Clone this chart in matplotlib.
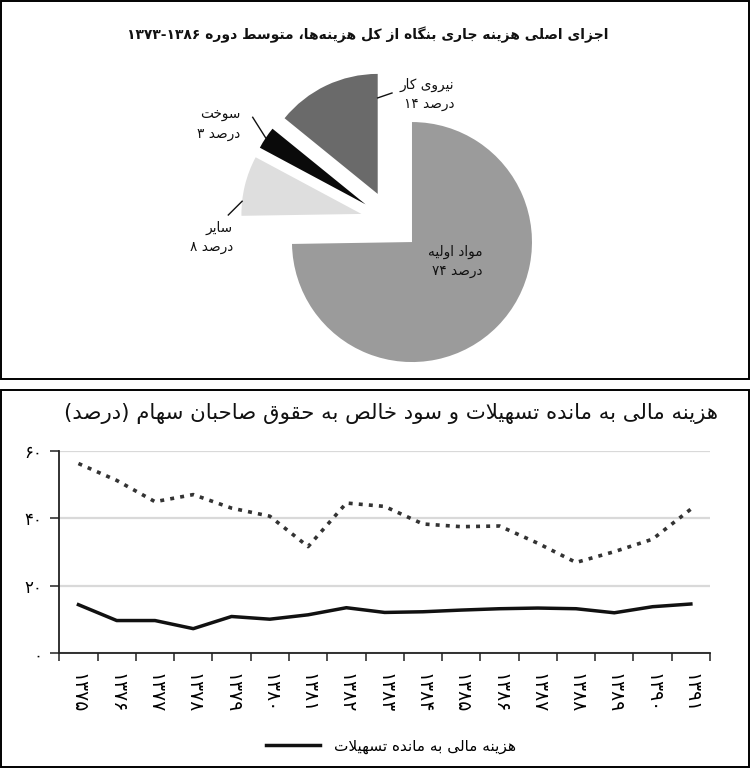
import re
import numpy as np
import matplotlib
matplotlib.use('Agg')
import matplotlib.pyplot as plt
from matplotlib.patches import Rectangle

plt.rcParams['font.family'] = ['DejaVu Sans']

# pie: main current cost components, average 1373-1386
cost_names = ['مواد اولیه', 'سایر', 'سوخت', 'نیروی کار']
cost_shares = [74, 8, 3, 14]
cost_colors = ['#9b9b9b', '#dedede', '#0a0a0a', '#6a6a6a']

# line chart
years = [1375, 1376, 1377, 1378, 1379, 1380, 1381, 1382, 1383,
         1384, 1385, 1386, 1387, 1388, 1389, 1390, 1391]
finance_cost = [14.4, 9.7, 9.7, 7.3, 10.9, 10.1, 11.4, 13.5, 12.1,
                12.3, 12.8, 13.2, 13.4, 13.2, 12.0, 13.8, 14.6]
net_profit = [56.2, 51.2, 44.9, 47.0, 43.0, 40.6, 31.6, 44.5, 43.5,
              38.3, 37.5, 37.7, 32.6, 26.9, 30.1, 33.8, 42.7]
y_ticks = [0, 20, 40, 60]

pie_title = 'اجزای اصلی هزینه جاری بنگاه از کل هزینه\u200cها، متوسط دوره ۱۳۸۶-۱۳۷۳'
line_title = 'هزینه مالی به مانده تسهیلات و سود خالص به حقوق صاحبان سهام (درصد)'
legend_label = 'هزینه مالی به مانده تسهیلات'
percent_word = 'درصد'

# --- minimal persian shaping (matplotlib has no bidi / joining) ---
FORMS = {
    'ا': (0xFE8D, 0xFE8E, None, None), 'آ': (0xFE81, 0xFE82, None, None),
    'ب': (0xFE8F, 0xFE90, 0xFE91, 0xFE92), 'پ': (0xFB56, 0xFB57, 0xFB58, 0xFB59),
    'ت': (0xFE95, 0xFE96, 0xFE97, 0xFE98), 'ث': (0xFE99, 0xFE9A, 0xFE9B, 0xFE9C),
    'ج': (0xFE9D, 0xFE9E, 0xFE9F, 0xFEA0), 'چ': (0xFB7A, 0xFB7B, 0xFB7C, 0xFB7D),
    'ح': (0xFEA1, 0xFEA2, 0xFEA3, 0xFEA4), 'خ': (0xFEA5, 0xFEA6, 0xFEA7, 0xFEA8),
    'د': (0xFEA9, 0xFEAA, None, None), 'ذ': (0xFEAB, 0xFEAC, None, None),
    'ر': (0xFEAD, 0xFEAE, None, None), 'ز': (0xFEAF, 0xFEB0, None, None),
    'ژ': (0xFB8A, 0xFB8B, None, None),
    'س': (0xFEB1, 0xFEB2, 0xFEB3, 0xFEB4), 'ش': (0xFEB5, 0xFEB6, 0xFEB7, 0xFEB8),
    'ص': (0xFEB9, 0xFEBA, 0xFEBB, 0xFEBC), 'ض': (0xFEBD, 0xFEBE, 0xFEBF, 0xFEC0),
    'ط': (0xFEC1, 0xFEC2, 0xFEC3, 0xFEC4), 'ظ': (0xFEC5, 0xFEC6, 0xFEC7, 0xFEC8),
    'ع': (0xFEC9, 0xFECA, 0xFECB, 0xFECC), 'غ': (0xFECD, 0xFECE, 0xFECF, 0xFED0),
    'ف': (0xFED1, 0xFED2, 0xFED3, 0xFED4), 'ق': (0xFED5, 0xFED6, 0xFED7, 0xFED8),
    'ک': (0xFB8E, 0xFB8F, 0xFB90, 0xFB91), 'گ': (0xFB92, 0xFB93, 0xFB94, 0xFB95),
    'ل': (0xFEDD, 0xFEDE, 0xFEDF, 0xFEE0), 'م': (0xFEE1, 0xFEE2, 0xFEE3, 0xFEE4),
    'ن': (0xFEE5, 0xFEE6, 0xFEE7, 0xFEE8), 'و': (0xFEED, 0xFEEE, None, None),
    'ه': (0xFEE9, 0xFEEA, 0xFEEB, 0xFEEC), 'ی': (0xFBFC, 0xFBFD, 0xFBFE, 0xFBFF),
}
PERSIAN_DIGITS = str.maketrans('0123456789', '۰۱۲۳۴۵۶۷۸۹')


def shape(text):
    out = []
    i = 0
    while i < len(text):
        c = text[i]
        if c not in FORMS:
            if c != '\u200c':
                out.append(c)
            i += 1
            continue
        prev = text[i - 1] if i > 0 else ''
        joins_prev = prev in FORMS and FORMS[prev][2] is not None
        nxt = text[i + 1] if i + 1 < len(text) else ''
        if c == 'ل' and nxt in ('ا', 'آ'):
            lig = (0xFEFB, 0xFEFC) if nxt == 'ا' else (0xFEF5, 0xFEF6)
            out.append(chr(lig[1] if joins_prev else lig[0]))
            i += 2
            continue
        iso, fin, ini, med = FORMS[c]
        joins_next = ini is not None and nxt in FORMS
        if joins_prev and joins_next:
            g = med
        elif joins_prev:
            g = fin
        elif joins_next:
            g = ini
        else:
            g = iso
        out.append(chr(g))
        i += 1
    return ''.join(out)


def fa(text):
    lines = []
    for line in text.split('\n'):
        vis = shape(line)[::-1]
        vis = re.sub(r'[0-9\u06F0-\u06F9]+', lambda m: m.group(0)[::-1], vis)
        lines.append(vis.translate(str.maketrans('()', ')(')))
    return '\n'.join(lines)


def fa_num(v):
    return str(v).translate(PERSIAN_DIGITS)


def fit_width(txt, target_px):
    r = fig.canvas.get_renderer()
    w = txt.get_window_extent(r).width
    txt.set_fontsize(txt.get_fontsize() * target_px / w)


W, H = 750, 769
fig = plt.figure(figsize=(W / 100, H / 100), dpi=100, facecolor='white')

# panel frames
fig.add_artist(Rectangle((1 / W, 1 - 379 / H), 748 / W, 378 / H, transform=fig.transFigure,
                         fill=False, lw=1.4, ec='black'))
fig.add_artist(Rectangle((1 / W, 1 - 767 / H), 748 / W, 377 / H, transform=fig.transFigure,
                         fill=False, lw=1.4, ec='black'))

# ---------- pie ----------
R_PX = 120.0
cx, cy = 390.6, 221.0
ax1 = fig.add_axes([0, 389 / H, 1, 380 / H])
wedges, _ = ax1.pie(cost_shares, colors=cost_colors, startangle=90, counterclock=False,
                    explode=[0.25] * len(cost_shares), wedgeprops=dict(linewidth=0))
ax1.set_xlim(-cx / R_PX, (W - cx) / R_PX)
ax1.set_ylim(-(380 - cy) / R_PX, cy / R_PX)
ax1.set_aspect('auto')
ax1.axis('off')


def px(x, y):
    return ((x - cx) / R_PX, (cy - y) / R_PX)


def on_wedge(w, frac_ang, frac_r):
    a = np.radians(w.theta1 + frac_ang * (w.theta2 - w.theta1))
    return (w.center[0] + frac_r * w.r * np.cos(a), w.center[1] + frac_r * w.r * np.sin(a))


label_pos = [px(483, 261), px(233, 237), px(240.5, 124), px(454, 94)]
leader = [None, ((0.76, 1.0), px(228.3, 215)), ((0.5, 1.0), px(252.7, 117.3)),
          ((0.0, 0.8), px(392, 93))]
for w, name, share, pos, ld in zip(wedges, cost_names, cost_shares, label_pos, leader):
    ax1.text(pos[0], pos[1], fa(name) + '\n' + fa_num(share) + ' ' + fa(percent_word),
             ha='right', va='center', multialignment='right', fontsize=9.8,
             linespacing=1.45, color='#111111')
    if ld is not None:
        p0 = on_wedge(w, *ld[0])
        ax1.plot([p0[0], ld[1][0]], [p0[1], ld[1][1]], color='#111111', lw=1.0)

t1 = fig.text(368 / W, 1 - 35 / H, fa(pie_title), ha='center', va='center',
              fontsize=12, fontweight='bold', color='#111111')
fit_width(t1, 478)

# ---------- line chart ----------
x0, x1, y0, y1 = 59.3, 710.0, 653.3, 450.7
ax2 = fig.add_axes([x0 / W, 1 - y0 / H, (x1 - x0) / W, (y0 - y1) / H])
xs = np.arange(len(years))
ax2.plot(xs, net_profit, color='#333333', lw=2.6, linestyle=(0, (1.1, 1.7)),
         dash_capstyle='butt')
solid, = ax2.plot(xs, finance_cost, color='#111111', lw=2.5, solid_joinstyle='round')
ax2.set_xlim(-0.5, len(years) - 0.5)
ax2.set_ylim(0, 60)
ax2.set_yticks(y_ticks)
ax2.set_yticklabels([fa_num(v) for v in y_ticks], fontsize=12)
ax2.set_xticks(np.arange(-0.5, len(years), 1.0))
ax2.set_xticklabels([])
ax2.set_xticks(xs, minor=True)
ax2.set_xticklabels([fa_num(y) for y in years], minor=True, rotation=-90, fontsize=13.5)
ax2.tick_params(axis='x', which='major', length=6, width=1.1, color='#222222')
ax2.tick_params(axis='x', which='minor', length=0, pad=14)
ax2.tick_params(axis='y', length=6.5, width=1.1, color='#222222', pad=6)
for s in ('top', 'right'):
    ax2.spines[s].set_visible(False)
for s in ('left', 'bottom'):
    ax2.spines[s].set_linewidth(1.3)
    ax2.spines[s].set_color('#222222')
ax2.yaxis.grid(True, color='#d9d9d9', lw=1.6)
ax2.set_axisbelow(True)

t2 = fig.text(718 / W, 1 - 413 / H, fa(line_title), ha='right', va='center',
              fontsize=14, color='#111111')
fit_width(t2, 661)

fig.legend([solid], [fa(legend_label)], loc='center', bbox_to_anchor=(391 / W, 1 - 746 / H),
           frameon=False, fontsize=11, handlelength=3.5, handletextpad=0.9)

fig.savefig('out.png', dpi=100, facecolor='white')
